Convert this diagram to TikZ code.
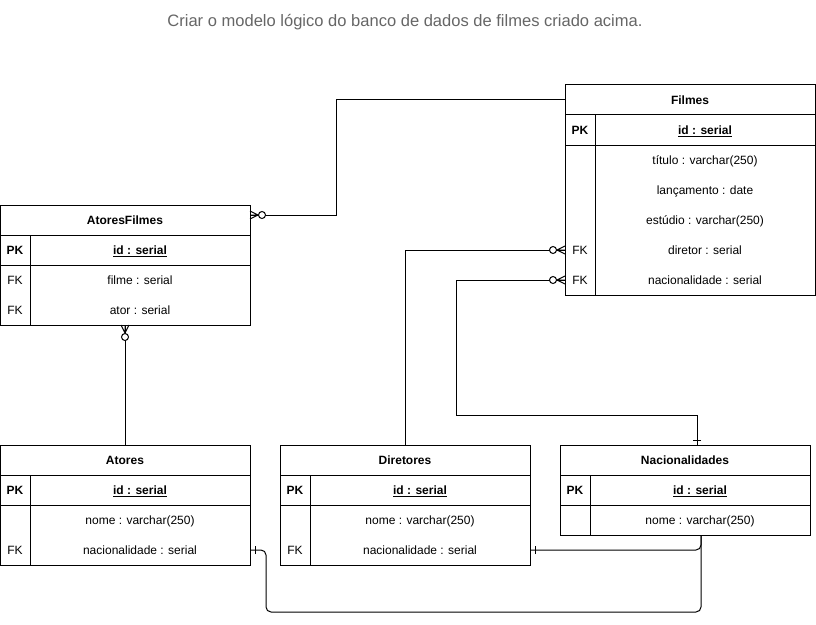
\documentclass[tikz,border=0pt]{standalone}
\usepackage{fontspec}
\setmainfont{Liberation Sans}
\usetikzlibrary{positioning}

\tikzset{every picture/.style={line width=0.75pt}}
\tikzset{
  tblbox/.style={draw, minimum width=187.5pt, minimum height=22.5pt, inner sep=0pt, outer sep=0pt},
  tblhead/.style={tblbox, font=\fontsize{9}{11}\selectfont\bfseries},
  fld/.style={inner sep=0.75pt, text height=8.6pt, text depth=1.9pt, font=\fontsize{9}{11}\selectfont},
  keyfld/.style={fld, font=\fontsize{9}{11}\selectfont\bfseries},
  erMany/.pic={\draw (0,-4) -- (8,0) -- (0,4) (0,0) -- (8,0); \draw[fill=white] (12,0) circle [radius=3.5];},
  erOne/.pic={\draw (5,-4) -- (5,4);},
}

\begin{document}
\begin{tikzpicture}[x=0.75pt,y=0.75pt,yscale=-1,xscale=1]
\useasboundingbox (0,0) rectangle (816,624);

% Title
\node[inner sep=0.75pt, text={rgb,255:red,102;green,102;blue,102}, font=\fontsize{12.4}{14}\selectfont] (titulo) at (405,22) {Criar o modelo lógico do banco de dados de filmes criado acima.};

% Table: Filmes
\node[tblhead] (filmes) at (690,100) {Filmes};
\node[tblbox, below=0pt of filmes] (filmesPK) {};
\node[tblbox, minimum height=112.5pt, below=0pt of filmesPK] (filmesBody) {};
\draw ([xshift=22.5pt]filmesPK.north west) -- ([xshift=22.5pt]filmesBody.south west);
\node[keyfld] (filmesPKkey) at (580,130) {PK};
\node[keyfld] (filmesId) at (705,130) {\underline{id : serial}};
\node[fld] (filmesTitulo) at (705,160) {título : varchar(250)};
\node[fld] (filmesLanc) at (705,190) {lançamento : date};
\node[fld] (filmesEstudio) at (705,220) {estúdio : varchar(250)};
\node[fld] (filmesDiretorKey) at (580,250) {FK};
\node[fld] (filmesDiretor) at (705,250) {diretor : serial};
\node[fld] (filmesNacKey) at (580,280) {FK};
\node[fld] (filmesNac) at (705,280) {nacionalidade : serial};

% Table: AtoresFilmes
\node[tblhead] (afilmes) at (125,220) {AtoresFilmes};
\node[tblbox, below=0pt of afilmes] (afilmesPK) {};
\node[tblbox, minimum height=45pt, below=0pt of afilmesPK] (afilmesBody) {};
\draw ([xshift=22.5pt]afilmesPK.north west) -- ([xshift=22.5pt]afilmesBody.south west);
\node[keyfld] (afilmesPKkey) at (15,250) {PK};
\node[keyfld] (afilmesId) at (140,250) {\underline{id : serial}};
\node[fld] (afilmesFilmeKey) at (15,280) {FK};
\node[fld] (afilmesFilme) at (140,280) {filme : serial};
\node[fld] (afilmesAtorKey) at (15,310) {FK};
\node[fld] (afilmesAtor) at (140,310) {ator : serial};

% Table: Atores
\node[tblhead] (atores) at (125,460) {Atores};
\node[tblbox, below=0pt of atores] (atoresPK) {};
\node[tblbox, minimum height=45pt, below=0pt of atoresPK] (atoresBody) {};
\draw ([xshift=22.5pt]atoresPK.north west) -- ([xshift=22.5pt]atoresBody.south west);
\node[keyfld] (atoresPKkey) at (15,490) {PK};
\node[keyfld] (atoresId) at (140,490) {\underline{id : serial}};
\node[fld] (atoresNome) at (140,520) {nome : varchar(250)};
\node[fld] (atoresNacKey) at (15,550) {FK};
\node[fld] (atoresNac) at (140,550) {nacionalidade : serial};

% Table: Diretores
\node[tblhead] (diretores) at (405,460) {Diretores};
\node[tblbox, below=0pt of diretores] (diretoresPK) {};
\node[tblbox, minimum height=45pt, below=0pt of diretoresPK] (diretoresBody) {};
\draw ([xshift=22.5pt]diretoresPK.north west) -- ([xshift=22.5pt]diretoresBody.south west);
\node[keyfld] (diretoresPKkey) at (295,490) {PK};
\node[keyfld] (diretoresId) at (420,490) {\underline{id : serial}};
\node[fld] (diretoresNome) at (420,520) {nome : varchar(250)};
\node[fld] (diretoresNacKey) at (295,550) {FK};
\node[fld] (diretoresNac) at (420,550) {nacionalidade : serial};

% Table: Nacionalidades
\node[tblhead] (nac) at (685,460) {Nacionalidades};
\node[tblbox, below=0pt of nac] (nacPK) {};
\node[tblbox, below=0pt of nacPK] (nacBody) {};
\draw ([xshift=22.5pt]nacPK.north west) -- ([xshift=22.5pt]nacBody.south west);
\node[keyfld] (nacPKkey) at (575,490) {PK};
\node[keyfld] (nacId) at (700,490) {\underline{id : serial}};
\node[fld] (nacNome) at (700,520) {nome : varchar(250)};

% Relationships
\draw (filmes.west) -- ++(-229,0) |- ([yshift=-3.75pt]afilmes.east);
\pic at ([yshift=-3.75pt]afilmes.east) {erMany};
\draw (afilmesBody.south) -- (atores.north);
\pic[rotate=-90] at (afilmesBody.south) {erMany};
\draw (filmesDiretor.center -| filmesBody.west) -| (diretores.north);
\pic[rotate=180] at (filmesDiretor.center -| filmesBody.west) {erMany};
\draw (filmesNac.center -| filmesBody.west) -- ++(-109,0) -- ++(0,135) -| ([xshift=9pt]nac.north);
\pic[rotate=180] at (filmesNac.center -| filmesBody.west) {erMany};
\pic[rotate=90] at ([xshift=9pt]nac.north) {erOne};
\draw[rounded corners=3.75pt] ([xshift=12pt]nacBody.south) |- (diretoresNac.center -| diretoresBody.east);
\pic at (diretoresNac.center -| diretoresBody.east) {erOne};
\draw[rounded corners=3.75pt] ([xshift=12pt]nacBody.south) |- ++(-435,77) |- (atoresNac.center -| atoresBody.east);
\pic at (atoresNac.center -| atoresBody.east) {erOne};

\end{tikzpicture}
\end{document}
